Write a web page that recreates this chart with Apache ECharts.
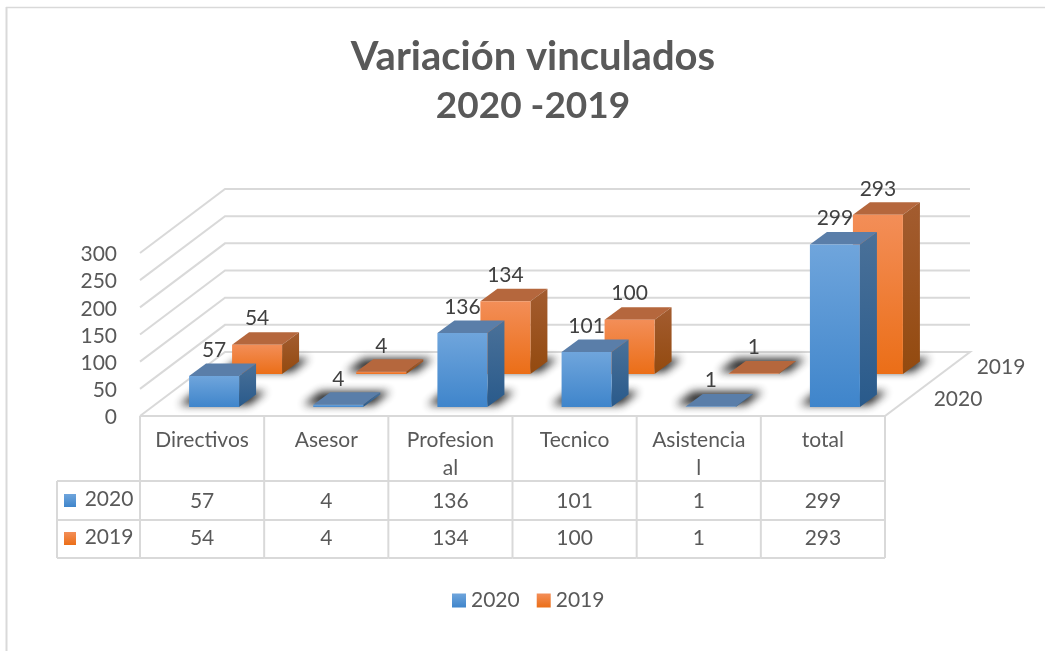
<!DOCTYPE html>
<html>
<head>
<meta charset="utf-8">
<title>Variación vinculados</title>
<script src="https://cdn.jsdelivr.net/npm/echarts@6/dist/echarts.min.js"></script>
<style>
  html, body { margin: 0; padding: 0; background: #fff; }
  #chart { width: 1045px; height: 651px; }
</style>
</head>
<body>
<div id="chart"></div>
<script>
const categories = ['Directivos', 'Asesor', 'Profesion\nal', 'Tecnico', 'Asistencia\nl', 'total'];
const values2020 = [57, 4, 136, 101, 1, 299];
const values2019 = [54, 4, 134, 100, 1, 293];
const yTicks = [0, 50, 100, 150, 200, 250, 300];

const FONT = 'Lato';
const FONT_SIZE = 21;
const GRID_COLOR = '#d9d9d9';
const TEXT_COLOR = '#595959';

// fake 3d: everything is pushed back along this vector from the front plane of the grid
const WALL_DX = 85, WALL_DY = -64;
const BAR_W = 50;
const BAR_DX = 17, BAR_DY = -12.5;
// the floor shadow shape sits off canvas, only its blurred shadow lands on the floor
const SHADOW_SHIFT = 3000;

function vgrad(top, bottom) {
    return new echarts.graphic.LinearGradient(0, 0, 0, 1, [
        { offset: 0, color: top }, { offset: 1, color: bottom }
    ]);
}

const palette = {
    2020: { front: ['#6fa5dc', '#3f85cb'], side: ['#4a7199', '#295a8b'], top: '#5a7ea9' },
    2019: { front: ['#f38e58', '#eb6e17'], side: ['#a35c30', '#934a0f'], top: '#b5673d' }
};

function renderBar(name, dx, dy) {
    const c = palette[name];
    return function (params, api) {
        const i = api.value(0), v = api.value(1);
        const base = api.coord([i, 0]);
        const head = api.coord([i, v]);
        const x0 = base[0] + dx - BAR_W / 2, x1 = x0 + BAR_W;
        const y0 = base[1] + dy, yt = head[1] + dy;
        const poly = (points, fill, extra) => ({
            type: 'polygon',
            shape: { points },
            style: Object.assign({ fill }, extra || {})
        });
        const s = SHADOW_SHIFT;
        return {
            type: 'group',
            children: [
                poly([[x0 - 10 - s, y0 - 2], [x1 + 10 - s, y0 - 2], [x1 + BAR_DX + 10 - s, y0 + BAR_DY - 3], [x0 + BAR_DX - 10 - s, y0 + BAR_DY - 3]],
                    '#000', { shadowBlur: 9, shadowOffsetX: s, shadowColor: 'rgba(30,30,30,0.95)' }),
                poly([[x0, yt], [x1, yt], [x1 + BAR_DX, yt + BAR_DY], [x0 + BAR_DX, yt + BAR_DY]], c.top),
                poly([[x1, yt], [x1 + BAR_DX, yt + BAR_DY], [x1 + BAR_DX, y0 + BAR_DY], [x1, y0]], vgrad(c.side[0], c.side[1])),
                poly([[x0, yt], [x1, yt], [x1, y0], [x0, y0]], vgrad(c.front[0], c.front[1])),
                {
                    type: 'text',
                    z2: 50,
                    style: {
                        text: String(v), x: x0 + BAR_W / 2, y: yt - 26,
                        align: 'center', verticalAlign: 'middle',
                        font: FONT_SIZE + 'px "' + FONT + '"', fill: '#404040'
                    }
                }
            ]
        };
    };
}

// wall lines plus the value labels, those sit a bit under their line in the reference
function renderWall(params, api) {
    const v = api.value(0);
    const w = api.size([1, 0])[0];
    const p = api.coord([0, v]);
    const left = p[0] - w / 2;
    const right = api.coord([categories.length - 1, v])[0] + w / 2;
    const pts = [[left, p[1]], [left + WALL_DX, p[1] + WALL_DY], [right + WALL_DX, p[1] + WALL_DY]];
    if (v === 0) pts.push([right, p[1]], [left, p[1]]);
    return {
        type: 'group',
        children: [
            {
                type: 'polyline',
                shape: { points: pts },
                style: { fill: null, stroke: GRID_COLOR, lineWidth: 2 }
            },
            {
                type: 'text',
                style: {
                    text: String(v), x: left - 23, y: p[1] + 1.5, align: 'right', verticalAlign: 'middle',
                    font: FONT_SIZE + 'px "' + FONT + '"', fill: TEXT_COLOR
                }
            }
        ]
    };
}

// data table under the axis: one column per category
const ROW_TOP = 416, ROW_A = 481, ROW_B = 520, ROW_C = 558, TABLE_LEFT = 57;

function renderTable(params, api) {
    const i = api.value(0);
    const p = api.coord([i, 0]);
    const w = api.size([1, 0])[0];
    const l = p[0] - w / 2, r = p[0] + w / 2;
    const line = (x1, y1, x2, y2) => ({
        type: 'line', shape: { x1, y1, x2, y2 },
        style: { stroke: GRID_COLOR, lineWidth: 2 }
    });
    const label = (text, x, y) => ({
        type: 'text',
        style: {
            text: String(text), x, y, align: 'center', verticalAlign: 'middle',
            font: FONT_SIZE + 'px "' + FONT + '"', fill: TEXT_COLOR
        }
    });
    const kids = [
        line(r, ROW_TOP, r, ROW_C),
        line(l, ROW_A, r, ROW_A), line(l, ROW_B, r, ROW_B), line(l, ROW_C, r, ROW_C),
        label(values2020[i], p[0], 501),
        label(values2019[i], p[0], 538)
    ];
    if (i === 0) {
        kids.push(
            line(l, ROW_TOP, l, ROW_C),
            line(TABLE_LEFT, ROW_A, l, ROW_A), line(TABLE_LEFT, ROW_B, l, ROW_B), line(TABLE_LEFT, ROW_C, l, ROW_C),
            line(TABLE_LEFT, ROW_A, TABLE_LEFT, ROW_C),
            { type: 'rect', shape: { x: 64, y: 494, width: 12, height: 13 }, style: { fill: vgrad(palette[2020].front[0], palette[2020].front[1]) } },
            { type: 'rect', shape: { x: 64, y: 532, width: 12, height: 13 }, style: { fill: vgrad(palette[2019].front[0], palette[2019].front[1]) } },
            label('2020', 109, 499),
            label('2019', 109, 537)
        );
    }
    return { type: 'group', children: kids };
}

const chart = echarts.init(document.getElementById('chart'), null, { renderer: 'canvas' });

chart.setOption({
    animation: false,
    backgroundColor: '#fff',
    title: {
        text: '{a|Variación vinculados}\n{b|2020 -2019}',
        left: 528,
        top: 28,
        textAlign: 'center',
        textStyle: {
            rich: {
                a: { fontFamily: FONT, fontSize: 40, fontWeight: 'bold', color: TEXT_COLOR, lineHeight: 49 },
                b: { fontFamily: FONT, fontSize: 37, fontWeight: 'bold', color: TEXT_COLOR, lineHeight: 49 }
            }
        }
    },
    legend: {
        data: [{ name: '2020', icon: 'rect' }, { name: '2019', icon: 'rect' }],
        left: 447,
        top: 585,
        itemWidth: 14,
        itemHeight: 14,
        itemGap: 17,
        textStyle: { fontFamily: FONT, fontSize: FONT_SIZE, color: TEXT_COLOR }
    },
    grid: { left: 140, right: 160, top: 253, height: 163 },
    xAxis: {
        type: 'category',
        data: categories,
        axisLine: { show: false },
        axisTick: { show: false },
        axisLabel: {
            interval: 0, margin: 10, verticalAlign: 'top', lineHeight: 28,
            fontFamily: FONT, fontSize: FONT_SIZE, color: TEXT_COLOR
        }
    },
    yAxis: {
        type: 'value',
        min: 0,
        max: 300,
        interval: 50,
        splitLine: { show: false },
        axisLine: { show: false },
        axisTick: { show: false },
        axisLabel: { show: false }
    },
    graphic: [
        { type: 'line', silent: true, shape: { x1: 6, y1: 7.5, x2: 1045, y2: 7.5 }, style: { stroke: GRID_COLOR, lineWidth: 1.5 } },
        { type: 'line', silent: true, shape: { x1: 6.5, y1: 7, x2: 6.5, y2: 651 }, style: { stroke: GRID_COLOR, lineWidth: 2 } },
        { type: 'text', silent: true, x: 958, y: 399, style: { text: '2020', align: 'center', verticalAlign: 'middle', font: FONT_SIZE + 'px "' + FONT + '"', fill: TEXT_COLOR } },
        { type: 'text', silent: true, x: 1001, y: 367, style: { text: '2019', align: 'center', verticalAlign: 'middle', font: FONT_SIZE + 'px "' + FONT + '"', fill: TEXT_COLOR } }
    ],
    series: [
        { type: 'custom', name: 'wall', z: 1, silent: true, data: yTicks.map(v => [v]), renderItem: renderWall, encode: { y: 0 } },
        { type: 'custom', name: 'table', z: 1, silent: true, data: categories.map((c, i) => [i]), renderItem: renderTable, encode: { x: 0 } },
        {
            type: 'custom', name: '2019', z: 2,
            itemStyle: { color: vgrad(palette[2019].front[0], palette[2019].front[1]) },
            data: values2019.map((v, i) => [i, v]),
            renderItem: renderBar(2019, 55, -42),
            encode: { x: 0, y: 1 }
        },
        {
            type: 'custom', name: '2020', z: 3,
            itemStyle: { color: vgrad(palette[2020].front[0], palette[2020].front[1]) },
            data: values2020.map((v, i) => [i, v]),
            renderItem: renderBar(2020, 12, -9),
            encode: { x: 0, y: 1 }
        }
    ]
});
</script>
</body>
</html>
